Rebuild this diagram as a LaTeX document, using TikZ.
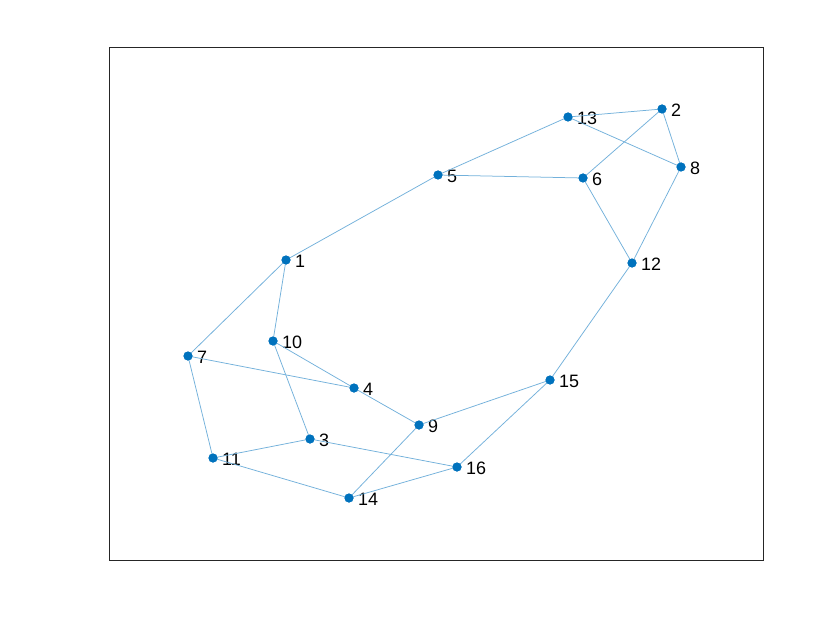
\documentclass[tikz,border=0pt]{standalone}
\usepackage{fontspec}
\setmainfont{Liberation Sans}
\definecolor{mblue}{rgb}{0,0.447,0.741}
\definecolor{frame}{rgb}{0.15,0.15,0.15}
\tikzset{
  vtx/.style={circle,fill=mblue,inner sep=0pt,minimum size=9bp,
    label={[label distance=1bp,font=\fontsize{18}{18}\selectfont,text=black,yshift=-1.5bp]right:#1}},
  edge/.style={draw=mblue!55,line width=0.75bp}
}
\begin{document}
\begin{tikzpicture}[x=1bp,y=-1bp]
\useasboundingbox[fill=white] (0,0) rectangle (840,630);
\draw[frame,line width=0.8bp] (109,47) rectangle (763,560);
\node[vtx=1] (n1) at (286,260) {};
\node[vtx=2] (n2) at (662,109) {};
\node[vtx=3] (n3) at (310,439) {};
\node[vtx=4] (n4) at (354,388) {};
\node[vtx=5] (n5) at (438,175) {};
\node[vtx=6] (n6) at (583,178) {};
\node[vtx=7] (n7) at (188,356) {};
\node[vtx=8] (n8) at (681,167) {};
\node[vtx=9] (n9) at (419,425) {};
\node[vtx=10] (n10) at (273,341) {};
\node[vtx=11] (n11) at (213,458) {};
\node[vtx=12] (n12) at (632,263) {};
\node[vtx=13] (n13) at (568,117) {};
\node[vtx=14] (n14) at (349,498) {};
\node[vtx=15] (n15) at (550,380) {};
\node[vtx=16] (n16) at (457,467) {};
\foreach \a/\b in {13/2,13/8,13/5,2/6,2/8,5/6,6/12,8/12,5/1,1/7,1/10,10/4,10/3,7/4,7/11,4/9,9/15,9/14,15/12,15/16,3/11,3/16,11/14,14/16}
  \draw[edge] (n\a.center) -- (n\b.center);
\foreach \i in {1,...,16}
  \fill[mblue] (n\i.center) circle (4.5bp);
\end{tikzpicture}
\end{document}
